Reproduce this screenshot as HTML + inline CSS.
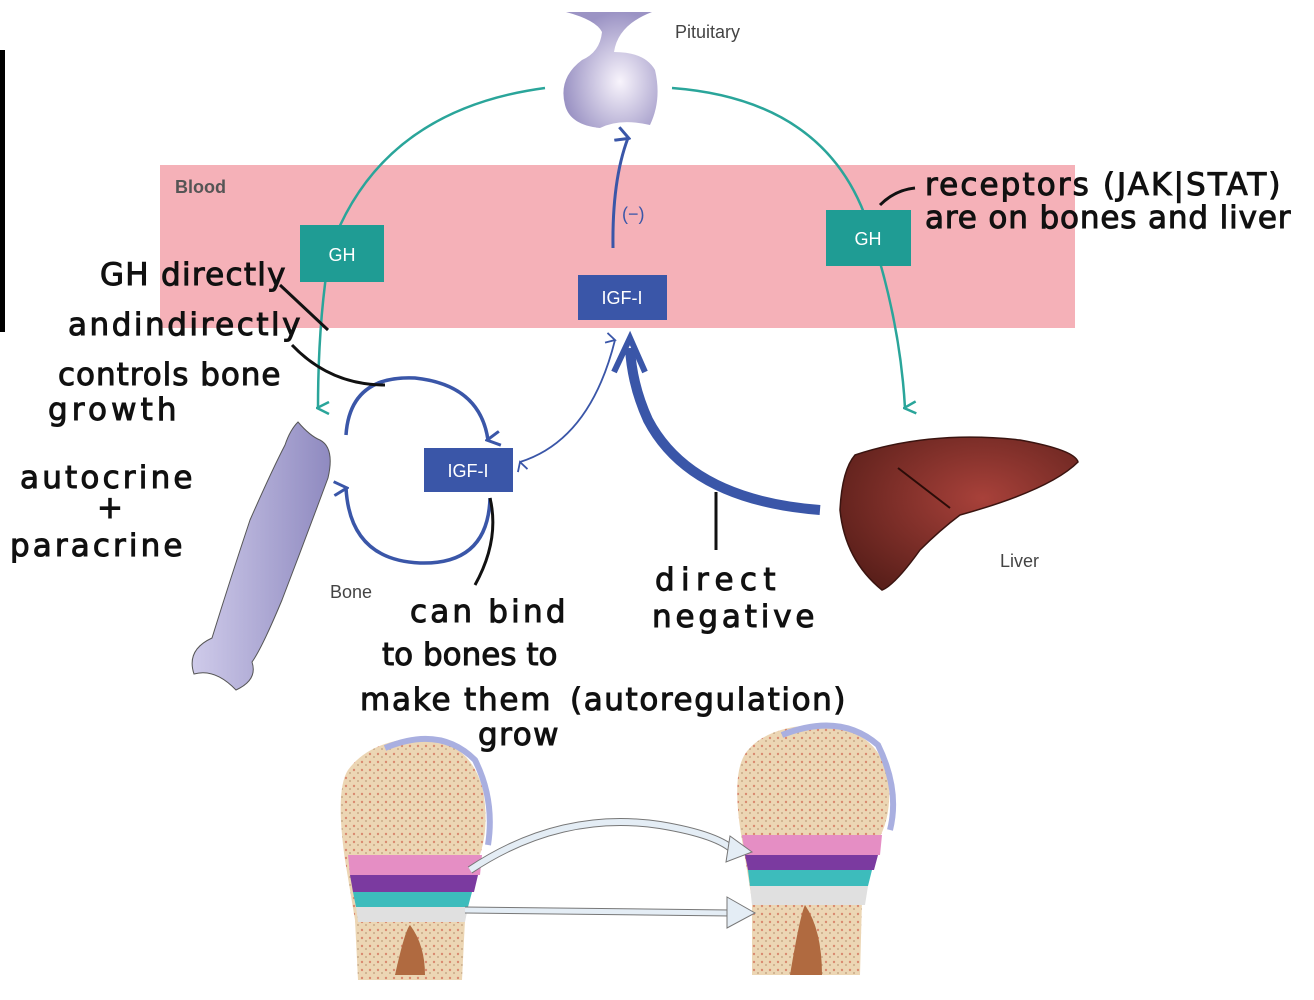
<!DOCTYPE html>
<html><head><meta charset="utf-8"><style>
html,body{margin:0;padding:0;background:#fff;}
svg{display:block}
.h{font-family:"DejaVu Sans",sans-serif;font-size:31px;letter-spacing:-0.5px;fill:#111;stroke:#111;stroke-width:1}
.l{font-family:"Liberation Sans",sans-serif;font-size:18px;fill:#444}
.b{font-family:"Liberation Sans",sans-serif;font-size:18px;fill:#fff}
</style></head><body>
<svg width="1314" height="1000" viewBox="0 0 1314 1000" xmlns="http://www.w3.org/2000/svg">
<defs>
<radialGradient id="pit" cx="0.6" cy="0.6" r="0.6"><stop offset="0" stop-color="#f8f4fc"/><stop offset="1" stop-color="#9b93c4"/></radialGradient>
<linearGradient id="bn" x1="0" x2="1"><stop offset="0" stop-color="#cfcbea"/><stop offset="1" stop-color="#8f8ac0"/></linearGradient>
<radialGradient id="lv" cx="0.6" cy="0.4" r="0.7"><stop offset="0" stop-color="#a8413a"/><stop offset="1" stop-color="#5a1f1a"/></radialGradient>
<pattern id="sp" width="8" height="8" patternUnits="userSpaceOnUse"><rect width="8" height="8" fill="#ecd6b4"/><circle cx="2" cy="2" r="1.2" fill="#d98a70"/><circle cx="6" cy="5" r="1" fill="#c9a987"/></pattern>
<marker id="ta" markerWidth="14" markerHeight="14" refX="7" refY="12" orient="auto" markerUnits="userSpaceOnUse"><path d="M1,1 L7,13 L13,1" fill="none" stroke="#2aa59a" stroke-width="2.5"/></marker>
<marker id="ba" markerWidth="16" markerHeight="16" refX="8" refY="13" orient="auto" markerUnits="userSpaceOnUse"><path d="M1,1 L8,14 L15,1" fill="none" stroke="#3a56a8" stroke-width="3"/></marker>
<marker id="bs" markerWidth="12" markerHeight="12" refX="6" refY="10" orient="auto-start-reverse" markerUnits="userSpaceOnUse"><path d="M1,1 L6,10 L11,1" fill="none" stroke="#3a56a8" stroke-width="1.8"/></marker>
</defs>
<rect x="0" y="50" width="5" height="282" fill="#000"/>
<rect x="160" y="165" width="915" height="163" fill="#f5b1b8"/>
<text x="175" y="193" class="l" style="font-weight:bold;fill:#555">Blood</text>
<!-- pituitary -->
<path d="M566,12 L652,12 Q618,25 614,52 Q645,52 655,70 Q662,100 650,125 Q620,118 600,128 Q570,125 565,105 Q558,78 582,60 Q600,52 602,32 Q596,20 566,12Z" fill="url(#pit)"/>
<text x="675" y="38" class="l">Pituitary</text>
<!-- teal arcs -->
<path d="M545,88 Q380,110 330,250 Q318,320 318,408" fill="none" stroke="#2aa59a" stroke-width="2.5" marker-end="url(#ta)"/>
<path d="M672,88 Q830,100 870,230 Q900,320 905,408" fill="none" stroke="#2aa59a" stroke-width="2.5" marker-end="url(#ta)"/>
<rect x="300" y="225" width="84" height="57" fill="#1f9c94"/><text x="342" y="261" class="b" text-anchor="middle">GH</text>
<rect x="826" y="210" width="85" height="56" fill="#1f9c94"/><text x="868" y="245" class="b" text-anchor="middle">GH</text>
<!-- IGF top -->
<path d="M613,248 Q612,180 628,138" fill="none" stroke="#3a56a8" stroke-width="3" marker-end="url(#ba)"/>
<text x="622" y="220" class="l" style="fill:#3a56a8">(−)</text>
<rect x="578" y="275" width="89" height="45" fill="#3a56a8"/><text x="622" y="304" class="b" text-anchor="middle">IGF-I</text>
<!-- middle IGF -->
<rect x="424" y="448" width="89" height="44" fill="#3a56a8"/><text x="468" y="477" class="b" text-anchor="middle">IGF-I</text>
<path d="M346,435 Q350,375 415,378 Q480,385 488,440" fill="none" stroke="#3a56a8" stroke-width="3.5" marker-end="url(#ba)"/>
<path d="M490,498 Q488,565 420,563 Q350,560 346,488" fill="none" stroke="#3a56a8" stroke-width="3.5" marker-end="url(#ba)"/>
<path d="M520,462 Q590,440 615,340" fill="none" stroke="#3a56a8" stroke-width="1.8" marker-start="url(#bs)" marker-end="url(#bs)"/>
<path d="M820,510 Q690,500 648,420 Q632,385 630,348" fill="none" stroke="#3a56a8" stroke-width="10"/>
<path d="M614,372 L630,338 L645,372" fill="none" stroke="#3a56a8" stroke-width="6"/>
<!-- bone long -->
<path d="M298,422 Q310,436 320,440 Q335,448 328,478 Q305,540 282,600 Q262,648 252,662 Q258,680 236,690 Q215,668 194,674 Q186,650 212,638 Q230,580 250,520 Q272,470 285,445 Q290,430 298,422Z" fill="url(#bn)" stroke="#555" stroke-width="1"/>
<text x="330" y="598" class="l">Bone</text>
<!-- liver -->
<path d="M855,455 Q930,430 1020,440 Q1075,450 1078,462 Q1050,490 960,515 Q940,530 920,550 Q895,585 882,590 Q845,560 840,510 Q842,470 855,455Z" fill="url(#lv)" stroke="#3a1410" stroke-width="1.5"/>
<path d="M898,468 L950,508" stroke="#2a0c08" stroke-width="2"/>
<text x="1000" y="567" class="l">Liver</text>
<!-- bottom bones -->
<g>
<path d="M355,920 L345,860 Q335,790 348,770 Q370,740 420,738 Q470,740 483,790 Q490,830 478,860 L465,920 L462,980 L358,980Z" fill="url(#sp)"/>
<path d="M385,748 Q440,725 475,760 Q495,800 488,845" fill="none" stroke="#a9afe0" stroke-width="6"/>
<path d="M348,855 L482,855 L480,875 L350,875Z" fill="#e58ec4"/>
<path d="M350,875 L478,875 L474,892 L353,892Z" fill="#7b3aa0"/>
<path d="M353,892 L472,892 L468,907 L356,907Z" fill="#3dbcbc"/>
<path d="M356,907 L468,907 L465,922 L358,922Z" fill="#e0e0e0"/>
<path d="M395,975 Q405,930 410,925 Q425,945 425,975Z" fill="#b06a40"/>
</g>
<g>
<path d="M752,900 L742,840 Q730,770 748,750 Q770,725 820,725 Q875,728 888,775 Q893,815 878,840 L862,900 L860,975 L752,975Z" fill="url(#sp)"/>
<path d="M782,735 Q840,712 878,745 Q900,790 890,830" fill="none" stroke="#a9afe0" stroke-width="6"/>
<path d="M742,835 L882,835 L880,855 L745,855Z" fill="#e58ec4"/>
<path d="M745,855 L878,855 L874,870 L748,870Z" fill="#7b3aa0"/>
<path d="M748,870 L872,870 L868,886 L750,886Z" fill="#3dbcbc"/>
<path d="M750,886 L868,886 L865,905 L752,905Z" fill="#e0e0e0"/>
<path d="M790,975 Q800,915 805,905 Q822,930 822,975Z" fill="#b06a40"/>
</g>
<path d="M470,870 Q560,810 660,825 Q720,835 735,852" fill="none" stroke="#777" stroke-width="8"/>
<path d="M470,870 Q560,810 660,825 Q720,835 735,852" fill="none" stroke="#e4edf5" stroke-width="6"/>
<path d="M730,836 L752,852 L726,862Z" fill="#e4edf5" stroke="#777" stroke-width="1"/>
<path d="M465,910 L730,913" stroke="#777" stroke-width="7"/>
<path d="M465,910 L730,913" stroke="#e4edf5" stroke-width="5"/>
<path d="M727,897 L755,913 L727,928Z" fill="#e4edf5" stroke="#777" stroke-width="1"/>
<!-- handwriting -->
<g class="h">
<text x="100" y="285" textLength="185">GH directly</text>
<text x="68" y="335" textLength="232">andindirectly</text>
<text x="58" y="385" textLength="222">controls bone</text>
<text x="48" y="420" textLength="128">growth</text>
<text x="20" y="488" textLength="172">autocrine</text>
<text x="97" y="518">+</text>
<text x="10" y="556" textLength="172">paracrine</text>
<text x="925" y="195" textLength="355">receptors (JAK|STAT)</text>
<text x="925" y="228" textLength="365">are on bones and liver</text>
<text x="410" y="622" textLength="155">can bind</text>
<text x="382" y="665" textLength="175">to bones to</text>
<text x="360" y="710" textLength="190">make them</text>
<text x="478" y="745" textLength="80">grow</text>
<text x="655" y="590" textLength="120">direct</text>
<text x="652" y="627" textLength="162">negative</text>
<text x="570" y="710" textLength="275">(autoregulation)</text>
</g>
<g fill="none" stroke="#111" stroke-width="3">
<path d="M280,285 L328,330"/>
<path d="M292,345 Q330,385 385,385"/>
<path d="M880,205 Q895,190 915,188"/>
<path d="M490,498 Q500,540 475,585"/>
<path d="M716,492 L716,550"/>
</g>
</svg>
</body></html>
